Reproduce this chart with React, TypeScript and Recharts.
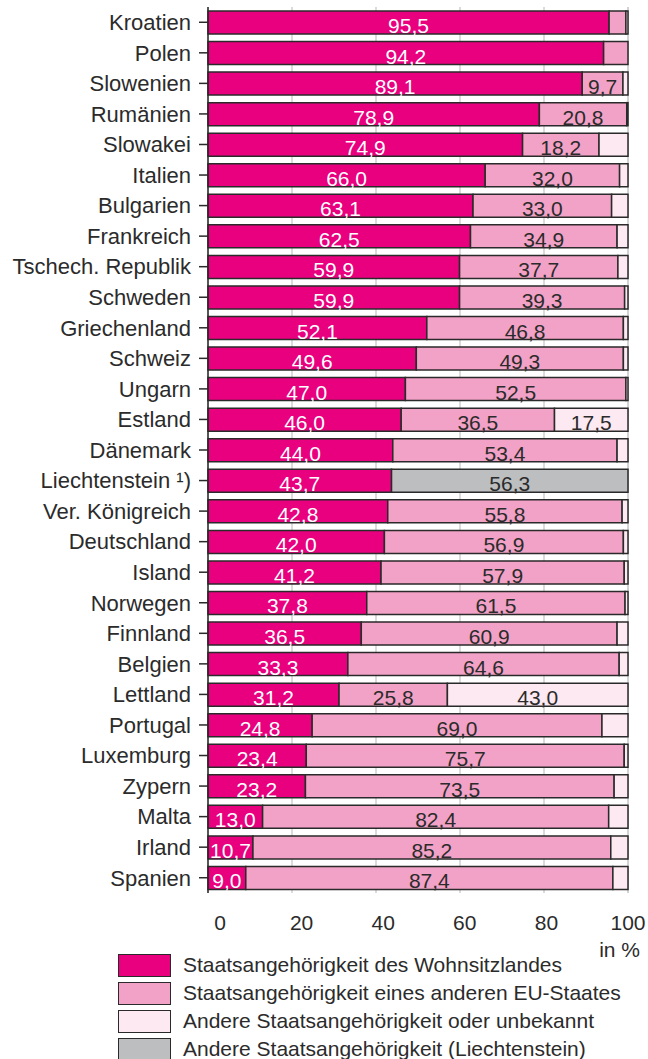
import React from 'react';
import { BarChart, Bar, XAxis, YAxis, CartesianGrid, LabelList } from 'recharts';

const countries = [
  'Kroatien', 'Polen', 'Slowenien', 'Rumänien', 'Slowakei', 'Italien', 'Bulgarien', 'Frankreich',
  'Tschech. Republik', 'Schweden', 'Griechenland', 'Schweiz', 'Ungarn', 'Estland', 'Dänemark',
  'Liechtenstein ¹)', 'Ver. Königreich', 'Deutschland', 'Island', 'Norwegen', 'Finnland', 'Belgien',
  'Lettland', 'Portugal', 'Luxemburg', 'Zypern', 'Malta', 'Irland', 'Spanien',
];
const ownCountry = [95.5, 94.2, 89.1, 78.9, 74.9, 66.0, 63.1, 62.5, 59.9, 59.9, 52.1, 49.6, 47.0, 46.0, 44.0, 43.7, 42.8, 42.0, 41.2, 37.8, 36.5, 33.3, 31.2, 24.8, 23.4, 23.2, 13.0, 10.7, 9.0];
const otherEU = [4.0, 5.8, 9.7, 20.8, 18.2, 32.0, 33.0, 34.9, 37.7, 39.3, 46.8, 49.3, 52.5, 36.5, 53.4, 0, 55.8, 56.9, 57.9, 61.5, 60.9, 64.6, 25.8, 69.0, 75.7, 73.5, 82.4, 85.2, 87.4];
const otherUnknown = [0.5, 0, 1.2, 0.3, 6.9, 2.0, 3.9, 2.6, 2.4, 0.8, 1.1, 1.1, 0.5, 17.5, 2.6, 0, 1.4, 1.1, 0.9, 0.7, 2.6, 2.1, 43.0, 6.2, 0.9, 3.3, 4.6, 4.1, 3.6];
const otherLiechtenstein = [0, 0, 0, 0, 0, 0, 0, 0, 0, 0, 0, 0, 0, 0, 0, 56.3, 0, 0, 0, 0, 0, 0, 0, 0, 0, 0, 0, 0, 0];
const xTicks = [0, 20, 40, 60, 80, 100];

const legendItems = [
  { label: 'Staatsangehörigkeit des Wohnsitzlandes', color: '#E8007F' },
  { label: 'Staatsangehörigkeit eines anderen EU-Staates', color: '#F2A2C6' },
  { label: 'Andere Staatsangehörigkeit oder unbekannt', color: '#FDE9F1' },
  { label: 'Andere Staatsangehörigkeit (Liechtenstein)', color: '#BCBEC0' },
];

const data = countries.map((c, i) => ({
  country: c,
  own: ownCountry[i],
  eu: otherEU[i],
  other: otherUnknown[i],
  li: otherLiechtenstein[i],
}));

const FONT = '"Liberation Sans", Arial, Helvetica, sans-serif';
const TEXT = '#2B2B2B';
const STROKE = '#2A2A2A';

const makeLabel = (fill: string) => (props: any) => {
  const { x, y, width, height, value } = props;
  if (value == null || Number(value) < 9) return null;
  const cx = Number(x) + Number(width) / 2;
  const by = Number(y) + Number(height) - 1;
  return (
    <text x={cx} y={by} textAnchor="middle" fill={fill} fontSize={21} fontFamily={FONT}>
      {Number(value).toFixed(1).replace('.', ',')}
    </text>
  );
};

const XTick = (props: any) => {
  const { x, y, payload } = props;
  const dx = 12 - payload.value * 0.12;
  return (
    <text x={x + dx} y={y} dy={15} textAnchor="middle" fill={TEXT} fontSize={21} fontFamily={FONT}>
      {payload.value}
    </text>
  );
};

export default function App() {
  return (
    <div style={{ position: 'absolute', left: 0, top: 0, width: 648, height: 1059, background: '#fff' }}>
      <BarChart
        width={648}
        height={1059}
        data={data}
        layout="vertical"
        margin={{ top: 7, right: 20, bottom: 106, left: 0 }}
        barSize={23}
      >
        <CartesianGrid horizontal={false} stroke="#CFCFCF" strokeWidth={1.5} />
        <XAxis
          type="number"
          domain={[0, 100]}
          ticks={xTicks}
          axisLine={false}
          tickLine={false}
          tickSize={0}
          tickMargin={22}
          height={60}
          tick={<XTick />}
        />
        <YAxis
          type="category"
          dataKey="country"
          width={208}
          axisLine={{ stroke: STROKE, strokeWidth: 1.5 }}
          tickLine={{ stroke: STROKE, strokeWidth: 1.5 }}
          tickSize={9}
          tickMargin={8}
          interval={0}
          tick={{ fill: TEXT, fontSize: 22, fontFamily: FONT }}
        />
        <Bar dataKey="own" stackId="a" fill="#E8007F" stroke={STROKE} strokeWidth={1.5} isAnimationActive={false}>
          <LabelList dataKey="own" content={makeLabel('#FFFFFF')} />
        </Bar>
        <Bar dataKey="eu" stackId="a" fill="#F2A2C6" stroke={STROKE} strokeWidth={1.5} isAnimationActive={false}>
          <LabelList dataKey="eu" content={makeLabel(TEXT)} />
        </Bar>
        <Bar dataKey="other" stackId="a" fill="#FDE9F1" stroke={STROKE} strokeWidth={1.5} isAnimationActive={false}>
          <LabelList dataKey="other" content={makeLabel(TEXT)} />
        </Bar>
        <Bar dataKey="li" stackId="a" fill="#BCBEC0" stroke={STROKE} strokeWidth={1.5} isAnimationActive={false}>
          <LabelList dataKey="li" content={makeLabel(TEXT)} />
        </Bar>
      </BarChart>
      <div
        style={{
          position: 'absolute',
          right: 8,
          top: 938,
          fontFamily: FONT,
          fontSize: 21,
          color: TEXT,
          lineHeight: '24px',
        }}
      >
        in %
      </div>
      <div style={{ position: 'absolute', left: 118, top: 951, fontFamily: FONT, fontSize: 21, color: TEXT }}>
        {legendItems.map((it) => (
          <div key={it.label} style={{ display: 'flex', alignItems: 'center', height: 28 }}>
            <div
              style={{
                width: 51,
                height: 21,
                background: it.color,
                border: `1.5px solid ${STROKE}`,
                marginRight: 12,
                flex: 'none',
              }}
            />
            <span style={{ lineHeight: '24px', whiteSpace: 'nowrap' }}>{it.label}</span>
          </div>
        ))}
      </div>
    </div>
  );
}
